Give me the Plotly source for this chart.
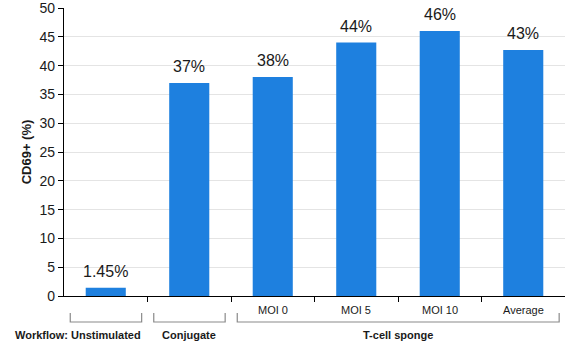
import plotly.graph_objects as go

categories = ["Unstimulated", "Conjugate", "MOI 0", "MOI 5", "MOI 10", "Average"]
values = [1.45, 37.0, 38.0, 44.0, 46.0, 42.7]
value_labels = ["1.45%", "37%", "38%", "44%", "46%", "43%"]
tick_labels = ["", "", "MOI 0", "MOI 5", "MOI 10", "Average"]
groups = [("Unstimulated", 0, 0), ("Conjugate", 1, 1), ("T-cell sponge", 2, 5)]
y_ticks = [0, 5, 10, 15, 20, 25, 30, 35, 40, 45, 50]

FONT = "Liberation Sans, Arial, Helvetica, sans-serif"
BAR = "#1e80df"
PLOT_H = 342 - 8 - 46

def py(px):
    """pixels below the x axis -> paper fraction"""
    return -px / PLOT_H

xs = list(range(len(categories)))

fig = go.Figure()
fig.add_trace(go.Bar(x=xs, y=values, width=0.48, marker=dict(color=BAR, line=dict(width=0)),
                     hoverinfo="skip"))

annotations = []
for x, v, t in zip(xs, values, value_labels):
    annotations.append(dict(x=x, y=v, text=t, showarrow=False, xref="x", yref="y",
                            yanchor="bottom", yshift=6,
                            font=dict(family=FONT, size=16, color="#1a1a1a")))
for x, t in zip(xs, tick_labels):
    if t:
        annotations.append(dict(x=x, y=py(14), text=t, showarrow=False, xref="x", yref="paper",
                                yanchor="middle", font=dict(family=FONT, size=11, color="#1a1a1a")))

shapes = []
for name, a, b in groups:
    x0, x1 = a - 0.425, b + 0.43
    shapes.append(dict(type="path", xref="x", yref="paper",
                       path=f"M {x0},{py(17)} L {x0},{py(26)} L {x1},{py(26)} L {x1},{py(17)}",
                       line=dict(color="#8a8a8a", width=1.2)))
    cx = (a + b) / 2
    annotations.append(dict(x=cx, y=py(39), text=f"<b>{name}</b>", showarrow=False, xref="x",
                            yref="paper", yanchor="middle",
                            font=dict(family=FONT, size=11, color="#1a1a1a")))
annotations.append(dict(x=0, y=py(39), text="<b>Workflow:</b>", showarrow=False, xref="x",
                        yref="paper", yanchor="middle", xanchor="right", xshift=-36,
                        font=dict(family=FONT, size=11, color="#1a1a1a")))

fig.update_layout(
    width=565, height=342,
    margin=dict(l=64, r=0, t=8, b=46),
    paper_bgcolor="white", plot_bgcolor="white",
    showlegend=False,
    bargap=0.52,
    annotations=annotations,
    shapes=shapes,
    xaxis=dict(range=[-0.5, 5.5], tickvals=[0.5, 1.5, 2.5, 3.5, 4.5], ticktext=[""] * 5,
               ticks="outside", ticklen=5, tickcolor="#000", tickwidth=1,
               showline=True, linecolor="#000", linewidth=1.2, showgrid=False, zeroline=False,
               automargin=False, fixedrange=True),
    yaxis=dict(range=[0, 50], tickvals=y_ticks, ticks="outside", ticklen=5, tickcolor="#000",
               showline=True, linecolor="#000", linewidth=1.2,
               showgrid=True, gridcolor="#e4e4e4", gridwidth=1, zeroline=False,
               ticklabeloverflow="allow", automargin=False,
               tickfont=dict(family=FONT, size=14, color="#1a1a1a"),
               title=dict(text="<b>CD69+ (%)</b>", font=dict(family=FONT, size=13, color="#1a1a1a"),
                          standoff=4)),
)

fig.write_html("out.html")
